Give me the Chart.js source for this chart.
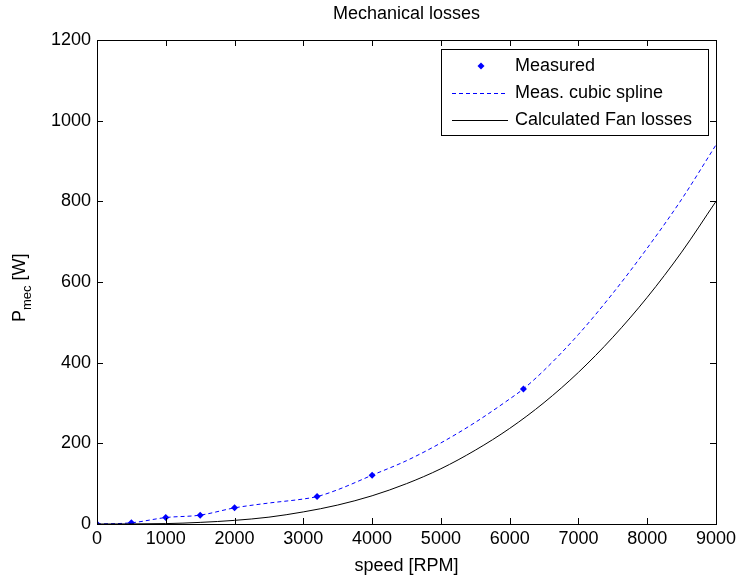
<!DOCTYPE html>
<html>
<head>
<meta charset="utf-8">
<script src="https://cdn.jsdelivr.net/npm/chart.js@4"></script>
<style>
  body { margin: 0; background: #fff; }
  #wrap { width: 736px; height: 578px; }
</style>
</head>
<body>
<div id="wrap"><canvas id="lossChart" width="736" height="578"></canvas></div>
<script>
// values
var measSpeed = [0, 500, 1000, 1500, 2000, 3200, 4000, 6200]
var measPower = [0, 3, 16, 22, 40, 68, 121, 335]

var splineSpeed = [0, 500, 1000, 1500, 2000, 2500, 3000, 3200, 3500, 4000, 4500, 5000, 5500, 6000, 6200, 6500, 7000, 7500, 8000, 8500, 9000]
var splinePower = [0, 3, 16, 22, 40, 52, 62, 68, 85, 121, 157, 201, 252, 310, 335, 381, 470, 572, 684, 805, 940]

var fanSpeed = [0, 1000, 1500, 2000, 2500, 3000, 3500, 4000, 4500, 5000, 5500, 6000, 6500, 7000, 7500, 8000, 8500, 9000]
var fanPower = [0, 1, 4, 9, 17, 30, 47, 70, 100, 137, 183, 237, 301, 376, 463, 562, 674, 800]

var legendLabels = ["Measured", "Meas. cubic spline", "Calculated Fan losses"]

function toXY(xs, ys) {
  return xs.map(function (x, i) { return { x: x, y: ys[i] } })
}

var FONT = "Liberation Sans, Arial, sans-serif"

// frame, inward ticks, titles and legend
var decor = {
  id: "decor",
  afterDraw: function (chart) {
    var ctx = chart.ctx
    var a = chart.chartArea
    var xs = chart.scales.x, ys = chart.scales.y
    ctx.save()
    ctx.strokeStyle = "#000"
    ctx.lineWidth = 1
    ctx.strokeRect(Math.round(a.left) + 0.5, Math.round(a.top) + 0.5, Math.round(a.right - a.left), Math.round(a.bottom - a.top))
    var tl = 6
    ctx.beginPath()
    xs.ticks.forEach(function (t) {
      var px = Math.round(xs.getPixelForValue(t.value)) + 0.5
      ctx.moveTo(px, a.bottom); ctx.lineTo(px, a.bottom - tl)
      ctx.moveTo(px, a.top); ctx.lineTo(px, a.top + tl)
    })
    ys.ticks.forEach(function (t) {
      var py = Math.round(ys.getPixelForValue(t.value)) + 0.5
      ctx.moveTo(a.left, py); ctx.lineTo(a.left + tl, py)
      ctx.moveTo(a.right, py); ctx.lineTo(a.right - tl, py)
    })
    ctx.stroke()

    // title
    ctx.fillStyle = "#000"
    ctx.font = "18px " + FONT
    ctx.textAlign = "center"
    ctx.textBaseline = "middle"
    ctx.fillText("Mechanical losses", (a.left + a.right) / 2, 14)
    // x title
    ctx.fillText("speed [RPM]", (a.left + a.right) / 2, 566)

    // y title with subscript
    ctx.save()
    ctx.translate(25, 322)
    ctx.rotate(-Math.PI / 2)
    ctx.textAlign = "left"
    ctx.textBaseline = "alphabetic"
    ctx.font = "18px " + FONT
    ctx.fillText("P", 0, 0)
    var w = ctx.measureText("P").width
    ctx.font = "13px " + FONT
    ctx.fillText("mec", w, 6)
    w += ctx.measureText("mec").width
    ctx.font = "18px " + FONT
    ctx.fillText(" [W]", w, 0)
    ctx.restore()

    // legend
    var lx = 441.5, ly = 49.5, lw = 267, lh = 86
    ctx.fillStyle = "#fff"
    ctx.fillRect(lx, ly, lw, lh)
    ctx.strokeStyle = "#000"
    ctx.strokeRect(lx, ly, lw, lh)
    var rows = [66, 93, 120]
    // marker
    ctx.fillStyle = "#0000ff"
    ctx.beginPath()
    ctx.moveTo(481, rows[0] - 3.5); ctx.lineTo(484.5, rows[0]); ctx.lineTo(481, rows[0] + 3.5); ctx.lineTo(477.5, rows[0])
    ctx.closePath(); ctx.fill()
    // dashed
    ctx.strokeStyle = "#0000ff"
    ctx.setLineDash([4, 3])
    ctx.beginPath(); ctx.moveTo(452, rows[1] + 0.5); ctx.lineTo(508, rows[1] + 0.5); ctx.stroke()
    ctx.setLineDash([])
    ctx.strokeStyle = "#000"
    ctx.beginPath(); ctx.moveTo(452, rows[2] + 0.5); ctx.lineTo(508, rows[2] + 0.5); ctx.stroke()
    ctx.fillStyle = "#000"
    ctx.font = "18px " + FONT
    ctx.textAlign = "left"
    ctx.textBaseline = "middle"
    legendLabels.forEach(function (s, i) { ctx.fillText(s, 515, rows[i]) })
    ctx.restore()
  }
}

var plainTick = function (v) { return String(v) }

var ctx = document.getElementById("lossChart")
var chart = new Chart(ctx, {
  type: "scatter",
  data: {
    datasets: [
      {
        label: legendLabels[2],
        data: toXY(fanSpeed, fanPower),
        showLine: true,
        borderColor: "#000",
        borderWidth: 1,
        pointRadius: 0,
        cubicInterpolationMode: "monotone"
      },
      {
        label: legendLabels[1],
        data: toXY(splineSpeed, splinePower),
        showLine: true,
        borderColor: "#0000ff",
        borderWidth: 1,
        borderDash: [4, 3],
        pointRadius: 0,
        cubicInterpolationMode: "monotone"
      },
      {
        label: legendLabels[0],
        data: toXY(measSpeed, measPower),
        showLine: false,
        pointStyle: "rectRot",
        pointRadius: 3.5,
        backgroundColor: "#0000ff",
        borderColor: "#0000ff",
        borderWidth: 0
      }
    ]
  },
  options: {
    responsive: false,
    animation: false,
    devicePixelRatio: 1,
    layout: { padding: { top: 40, right: 20, left: 0, bottom: 0 } },
    plugins: { legend: { display: false }, title: { display: false }, tooltip: { enabled: false } },
    scales: {
      x: {
        type: "linear",
        min: 0, max: 9000,
        ticks: { stepSize: 1000, color: "#000", font: { family: FONT, size: 18 }, padding: 4, maxRotation: 0, callback: plainTick },
        grid: { display: false, drawTicks: false },
        border: { display: false },
        afterFit: function (s) { s.height = 54; s.paddingLeft = 0; s.paddingRight = 0 }
      },
      y: {
        min: 0, max: 1200,
        ticks: { stepSize: 200, color: "#000", font: { family: FONT, size: 18 }, padding: 6, callback: plainTick },
        grid: { display: false, drawTicks: false },
        border: { display: false },
        afterFit: function (s) { s.width = 97; s.paddingTop = 0; s.paddingBottom = 0 }
      }
    }
  },
  plugins: [decor]
})
</script>
</body>
</html>
